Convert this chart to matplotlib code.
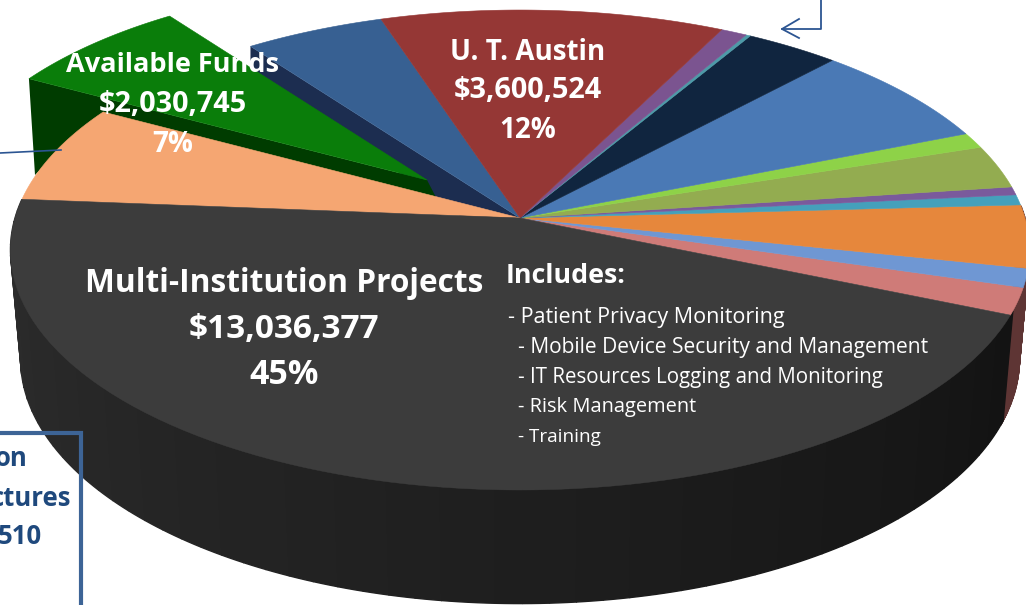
import numpy as np
import matplotlib
matplotlib.use("Agg")
import matplotlib.pyplot as plt

names = ["Pink", "Light blue", "Orange", "Teal", "Purple", "Olive", "Lime", "Blue",
         "Navy", "Thin teal", "Violet", "U. T. Austin", "Steel blue", "Available Funds",
         "Peach", "Multi-Institution Projects"]
values = [525, 363, 1227, 202, 161, 847, 307, 2034, 985, 48, 274, 3600.524, 1465, 2030.745,
          1935, 13036.377]
colors = ["#cf7b78", "#6f97d3", "#e6873c", "#45a0bb", "#7a5a9c", "#93ac50", "#8ed248", "#4a79b5",
          "#10253f", "#4d9aa8", "#7b5490", "#953735", "#376092", "#0a7d0a", "#f5a672", "#3c3c3c"]

plt.rcParams['font.family'] = ['Open Sans', 'DejaVu Sans']
fig = plt.figure(figsize=(10.26, 6.05), dpi=100)
ax = fig.add_axes([0, 0, 1, 1])
ax.set_xlim(0, 1026)
ax.set_ylim(605, 0)
ax.axis("off")

CX, CY, A, B, K = 520, 218, 505, 235.7, 0.1333
BY, BA, BB = 326, 495, 240.6
START = -23.0


def rim(th, top=True):
    u, v = np.cos(np.radians(th)), np.sin(np.radians(th))
    w = 1 + K * v
    if top:
        return CX + A * u / w, CY - B * v / w
    return CX + BA * u / w, BY - BB * v / w


def wedge(t0, t1, color, apex=(CX, CY), scale=1.0, zorder=3):
    th = np.linspace(t0, t1, 90)
    x, y = rim(th)
    x = apex[0] + scale * (x - CX)
    y = apex[1] + scale * (y - CY)
    ax.fill(np.r_[apex[0], x], np.r_[apex[1], y], color=color, lw=0.4, zorder=zorder)


def wall(t0, t1, c0, c1, zorder=2):
    edges = np.linspace(t0, t1, 61)
    c0, c1 = np.array(matplotlib.colors.to_rgb(c0)), np.array(matplotlib.colors.to_rgb(c1))
    for i in range(60):
        th = np.linspace(edges[i], edges[i + 1], 4)
        xt, yt = rim(th)
        xb, yb = rim(th, top=False)
        c = c0 + (c1 - c0) * i / 59
        ax.fill(np.r_[xt, xb[::-1]], np.r_[yt, yb[::-1]], color=c, lw=1.0, zorder=zorder)


angles = np.array(values) / sum(values) * 360
bounds = START + np.r_[0, np.cumsum(angles)]
idx = {n: i for i, n in enumerate(names)}

# Side walls of the two pulled-out slices and of the front
i = idx["Steel blue"]
px, py = rim(bounds[i + 1])
ax.fill([px, px, CX, CX], [py, py + 22, CY + 40, CY], color="#1c2d50", lw=0, zorder=1)
i = idx["Available Funds"]
GA, GS = (427, 180), 0.955
px, py = rim(bounds[i + 1])
px, py = GA[0] + GS * (px - CX), GA[1] + GS * (py - CY)
ax.fill([px, 35, 60, 440, GA[0]], [py, 175, 150, 205, GA[1]], color="#003c00", lw=0, zorder=2)

for i, n in enumerate(names):
    if n == "Available Funds":
        wedge(bounds[i], bounds[i + 1], colors[i], apex=GA, scale=GS, zorder=2.5)
    elif n == "Steel blue":
        wedge(bounds[i], bounds[i + 1], colors[i], zorder=1.5)
    else:
        wedge(bounds[i], bounds[i + 1], colors[i], zorder=3)

i = idx["Multi-Institution Projects"]
wall(bounds[i], 338, "#2e2e2e", "#131313", zorder=2)
wall(START, START + 26, "#5e3534", "#5e3534", zorder=1.8)

# Callout lines and the box
navy = "#2c5592"
ax.plot([821, 821, 782], [0, 29, 29], color=navy, lw=1.3, zorder=5)
ax.plot([799, 782, 799], [19, 29, 38], color=navy, lw=1.3, zorder=5)
ax.plot([0, 61], [153, 150], color=navy, lw=1.2, zorder=5)
ax.plot([0, 81, 81], [433, 433, 605], color="#3d6496", lw=3, zorder=4, solid_joinstyle="miter")
for s, xr, y in [("on", 28, 459), ("ctures", 71, 499), ("510", 42, 537)]:
    ax.text(xr, y, s, color="#1f497d", fontsize=18.5, fontweight="bold", ha="right", va="center",
            zorder=6, clip_on=True)


def label(x, y, s, size, weight="bold", ha="center"):
    ax.text(x, y, s, color="white", fontsize=size, fontweight=weight, ha=ha, va="center", zorder=7)


for s, y, z in [("Available Funds", 65, 19.5), ("$2,030,745", 105, 20.8), ("7%", 144, 20)]:
    label(173, y, s, z)
for s, y, z in [("U. T. Austin", 53, 20), ("$3,600,524", 91, 20.8), ("12%", 130, 20)]:
    label(528, y, s, z)
for s, y, z in [("Multi-Institution Projects", 283, 22.8), ("$13,036,377", 330, 24), ("45%", 375, 24.5)]:
    label(284, y, s, z)
label(506, 276, "Includes:", 19.3, ha="left")
label(508, 318, "- Patient Privacy Monitoring", 15.5, weight="normal", ha="left")
for s, y, z in [("- Mobile Device Security and Management", 348, 15.1),
                ("- IT Resources Logging and Monitoring", 378, 14.8),
                ("- Risk Management", 407, 14.4), ("- Training", 437, 13.6)]:
    label(518, y, s, z, weight="normal", ha="left")

fig.savefig("out.png", dpi=100, facecolor="white")
